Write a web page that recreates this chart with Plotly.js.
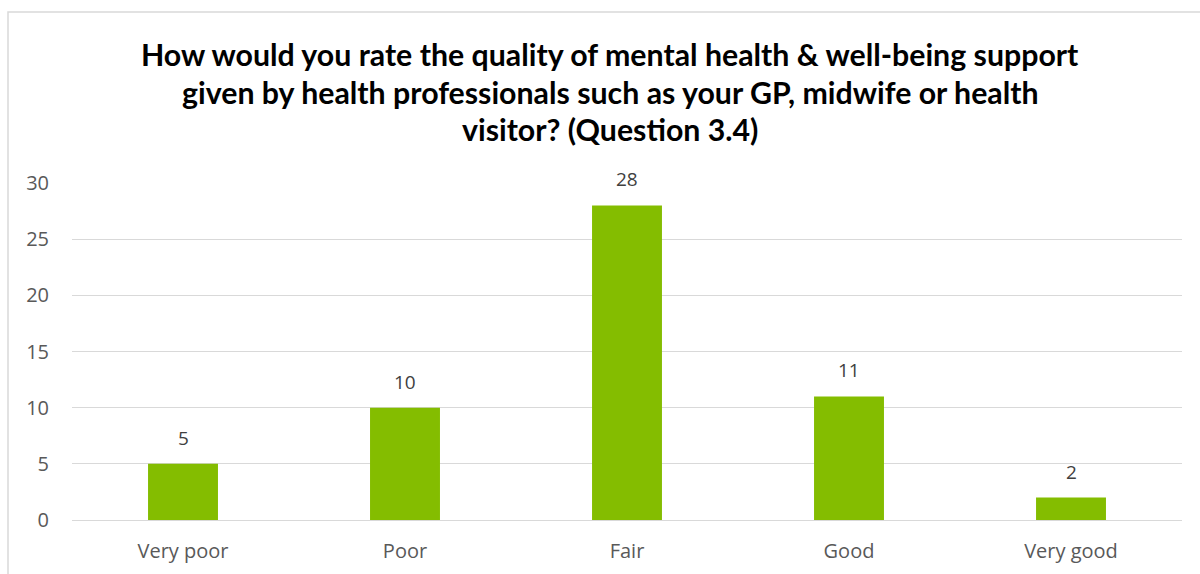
<!DOCTYPE html>
<html>
<head>
<meta charset="utf-8">
<script src="https://cdn.plot.ly/plotly-3.0.1.min.js"></script>
<style>html,body{margin:0;padding:0;background:#fff;}#chart{width:1200px;height:574px;}</style>
</head>
<body>
<div id="chart"></div>
<script>
const categories = ["Very poor", "Poor", "Fair", "Good", "Very good"];
const counts = [5, 10, 28, 11, 2];
const titleLines = [
  "How would you rate the quality of mental health & well-being support",
  "given by health professionals such as your GP, midwife or health",
  "visitor? (Question 3.4)"
];
const yTicks = [0, 5, 10, 15, 20, 25, 30];

const TFONT = "Lato, 'Open Sans', sans-serif";
const FONT = "'Open Sans', Lato, sans-serif";

const trace = {
  type: "bar",
  x: categories,
  y: counts,
  marker: {color: "#84bd00"},
  hoverinfo: "x+y"
};

const labels = categories.map((c, i) => ({
  x: c, y: counts[i], xref: "x", yref: "y",
  text: String(counts[i]), showarrow: false,
  yanchor: "bottom", yshift: 11,
  font: {family: FONT, size: 19, color: "#404040"}
}));

const titleAnn = titleLines.map((t, i) => ({
  xref: "paper", yref: "paper",
  x: (610 - 72) / 1110, y: (520 - (54 + i * 37.5)) / 337,
  xanchor: "center", yanchor: "middle",
  text: "<b>" + t + "</b>", showarrow: false,
  font: {family: TFONT, size: 30.3, color: "#000000"}
}));

const layout = {
  width: 1200, height: 574,
  margin: {l: 72, r: 18, t: 183, b: 54},
  paper_bgcolor: "#ffffff", plot_bgcolor: "#ffffff",
  bargap: 0.685,
  showlegend: false,
  font: {family: FONT, color: "#595959"},
  xaxis: {
    type: "category",
    tickfont: {family: FONT, size: 20, color: "#595959"},
    showgrid: false, showline: false, ticks: "", ticklabelstandoff: 17, fixedrange: true
  },
  yaxis: {
    range: [0, 30], tickvals: yTicks,
    tickfont: {family: FONT, size: 20, color: "#595959"},
    showgrid: true, gridcolor: "#d9d9d9", gridwidth: 1,
    zeroline: true, zerolinecolor: "#d9d9d9", zerolinewidth: 1,
    showline: false, ticks: "", ticklabelstandoff: 22, fixedrange: true
  },
  annotations: titleAnn.concat(labels),
  shapes: [{
    type: "rect", xref: "paper", yref: "paper", layer: "below",
    x0: (8 - 72) / 1110, x1: (1220 - 72) / 1110,
    y0: (520 - 600) / 337, y1: (520 - 12) / 337,
    line: {color: "#d9d9d9", width: 1.5}, fillcolor: "rgba(0,0,0,0)"
  }]
};

Plotly.newPlot("chart", [trace], layout, {displayModeBar: false, staticPlot: true});
</script>
</body>
</html>
